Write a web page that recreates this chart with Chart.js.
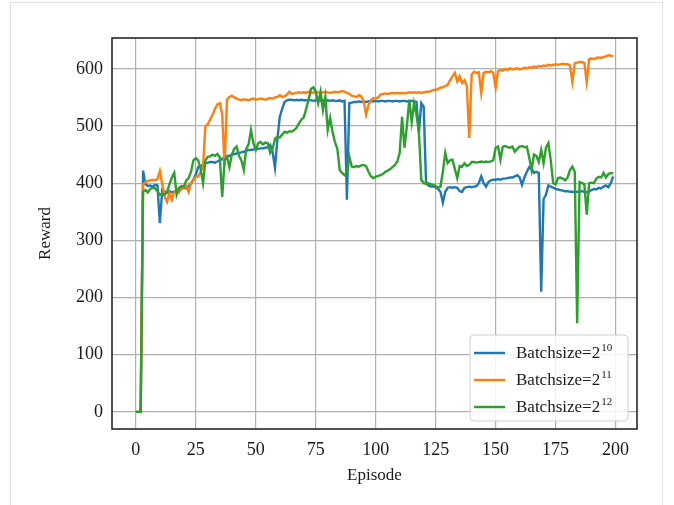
<!DOCTYPE html>
<html>
<head>
<meta charset="utf-8">
<script src="https://cdn.jsdelivr.net/npm/chart.js@4"></script>
<style>
  html, body { margin: 0; padding: 0; background: #fff; }
  #wrap { position: relative; width: 674px; height: 505px; }
  #frame { position: absolute; left: 10px; top: 2px; width: 653px; height: 510px; border: 1px solid #e2e2e2; box-sizing: border-box; pointer-events: none; }
  canvas { position: absolute; left: 0; top: 0; }
</style>
</head>
<body>
<div id="wrap">
  <div id="frame"></div>
  <canvas id="chart" width="674" height="505"></canvas>
</div>
<script>
// Reward per episode for three batch sizes

const xTicks = [0, 25, 50, 75, 100, 125, 150, 175, 200];
const yTicks = [0, 100, 200, 300, 400, 500, 600];

const seriesBase = "Batchsize=2";
const seriesExp = ["10", "11", "12"];
const seriesColors = ["#1f77b4", "#ff7f0e", "#2ca02c"];

// episode index 0..199
const episodes = Array.from({ length: 200 }, (_, i) => i);

const reward10 = [
  0, 0, 0, 422, 398, 395, 396, 394, 397, 396,
  330, 388, 385, 383, 386, 384, 385, 387, 386, 390,
  392, 391, 395, 400, 406, 415, 428, 430, 432, 435,
  436, 437, 437, 436, 438, 440, 442, 446, 447, 448,
  450, 451, 452, 453, 454, 455, 457, 458, 458, 459,
  460, 460, 461, 461, 462, 463, 467, 455, 427, 476,
  516, 530, 542, 545, 546, 546, 545, 546, 545, 546,
  545, 545, 546, 545, 544, 545, 545, 544, 545, 544,
  545, 544, 545, 544, 544, 545, 543, 544, 371, 540,
  541, 542, 542, 543, 542, 543, 542, 543, 544, 543,
  544, 543, 544, 544, 543, 544, 544, 543, 544, 544,
  543, 544, 544, 543, 544, 544, 543, 542, 488, 540,
  534, 400, 396, 394, 394, 393, 390, 385, 366, 385,
  392, 393, 392, 393, 392, 386, 385, 392, 393, 394,
  393, 394, 395, 400, 412, 400, 394, 402, 405, 406,
  406, 407, 406, 408, 408, 409, 410, 410, 412, 414,
  410, 397, 410, 420, 428, 425, 418, 420, 418, 210,
  372, 380, 396, 394, 392, 390, 389, 388, 387, 386,
  386, 385, 385, 384, 385, 385, 386, 385, 384, 386,
  388, 390, 389, 392, 391, 394, 396, 393, 400, 412
];

const reward11 = [
  0, 0, 0, 398, 402, 404, 405, 406, 405, 407,
  421, 398, 376, 367, 383, 371, 385, 387, 384, 394,
  392, 395, 385, 400, 405, 411, 412, 420, 429, 500,
  503, 512, 520, 530, 538, 540, 520, 430, 546, 551,
  553, 550, 548, 546, 545, 547, 546, 545, 547, 548,
  546, 547, 548, 547, 546, 548, 549, 548, 550, 551,
  554, 551, 552, 555, 560, 556, 557, 558, 559, 558,
  559, 558, 560, 559, 558, 560, 559, 558, 559, 560,
  559, 558, 559, 560, 559, 560, 561, 560, 558, 556,
  553, 552, 551, 554, 552, 542, 520, 537, 545, 549,
  548, 550, 555, 556, 557, 556, 557, 558, 557, 558,
  557, 558, 557, 558, 559, 558, 559, 558, 559, 558,
  559, 560, 560, 561, 563, 563, 565, 567, 568, 570,
  572, 580, 587, 593, 578, 587, 575, 580, 570, 479,
  590, 595, 593, 594, 558, 593, 595, 594, 596, 593,
  567, 596, 598, 597, 600, 598, 601, 599, 600, 601,
  599, 600, 602, 601, 603, 602, 604, 603, 605, 604,
  606, 605, 607, 606, 607, 608, 607, 608, 609, 608,
  608, 606, 577, 610, 611, 612, 612, 610, 577, 617,
  618, 617, 619, 620, 619, 621, 622, 624, 623, 622
];

const reward12 = [
  0, 0, 0, 385, 388, 384, 390, 392, 391, 386,
  380, 381, 380, 385, 398, 410, 418, 380, 392, 395,
  394, 405, 409, 420, 440, 444, 440, 425, 400, 440,
  446, 447, 450, 448, 451, 445, 376, 440, 446, 428,
  450, 460, 464, 448, 440, 423, 460, 468, 493, 470,
  458, 470, 472, 468, 471, 470, 453, 460, 478, 481,
  480, 485, 490, 488, 491, 490, 493, 497, 505, 511,
  515, 530, 546, 565, 568, 560, 540, 560, 528, 551,
  493, 514, 490, 472, 460, 423, 418, 414, 418, 446,
  429, 428, 430, 429, 431, 432, 430, 420, 412, 409,
  411, 413, 414, 416, 420, 422, 425, 428, 432, 438,
  453, 516, 462, 500, 546, 507, 540, 520, 490, 406,
  400, 399, 400, 398, 397, 395, 392, 394, 420, 453,
  435, 440, 441, 425, 409, 430, 429, 435, 430, 432,
  437, 437, 436, 437, 438, 437, 438, 437, 438, 440,
  462, 464, 441, 464, 465, 463, 462, 464, 455, 460,
  464, 465, 463, 464, 445, 423, 450, 448, 437, 458,
  435, 462, 470, 440, 400, 398, 409, 410, 408, 405,
  410, 423, 429, 420, 155, 402, 400, 398, 345, 400,
  401, 400, 408, 411, 410, 418, 410, 416, 418, 417
];

const SERIF = "'Liberation Serif', 'DejaVu Serif', serif";

function toPoints(values) {
  return values.map((v, i) => ({ x: episodes[i], y: v }));
}

// ===== 外框 + 图例 (上标需要手工画) =====
const framePlugin = {
  id: "frameAndLegend",
  afterDraw(chart) {
    const ctx = chart.ctx;
    const a = chart.chartArea;
    ctx.save();
    ctx.strokeStyle = "#1a1a1a";
    ctx.lineWidth = 1.5;
    ctx.strokeRect(a.left, a.top, a.right - a.left, a.bottom - a.top);

    // legend box
    const bx = 470, by = 335, bw = 158, bh = 86, r = 4;
    ctx.beginPath();
    ctx.moveTo(bx + r, by);
    ctx.arcTo(bx + bw, by, bx + bw, by + bh, r);
    ctx.arcTo(bx + bw, by + bh, bx, by + bh, r);
    ctx.arcTo(bx, by + bh, bx, by, r);
    ctx.arcTo(bx, by, bx + bw, by, r);
    ctx.closePath();
    ctx.fillStyle = "rgba(255,255,255,0.85)";
    ctx.fill();
    ctx.strokeStyle = "#d0d0d0";
    ctx.lineWidth = 1;
    ctx.stroke();

    const rows = [353, 380, 407];
    rows.forEach((y, i) => {
      ctx.strokeStyle = seriesColors[i];
      ctx.lineWidth = 2.4;
      ctx.beginPath();
      ctx.moveTo(474, y);
      ctx.lineTo(505, y);
      ctx.stroke();
      ctx.fillStyle = "#1a1a1a";
      ctx.textBaseline = "middle";
      ctx.textAlign = "left";
      ctx.font = "17px " + SERIF;
      ctx.fillText(seriesBase, 516, y + 1);
      const w = ctx.measureText(seriesBase).width;
      ctx.font = "11px " + SERIF;
      ctx.fillText(seriesExp[i], 516 + w + 1, y - 5);
    });
    ctx.restore();
  },
};

new Chart(document.getElementById("chart"), {
  type: "line",
  data: {
    datasets: [reward10, reward11, reward12].map((vals, i) => ({
      label: seriesBase + "^" + seriesExp[i],
      data: toPoints(vals),
      borderColor: seriesColors[i],
      borderWidth: 2.4,
      pointRadius: 0,
      tension: 0,
      fill: false,
      order: 3 - i,
    })),
  },
  options: {
    responsive: false,
    animation: false,
    layout: { padding: { left: 0, top: 38, right: 37, bottom: 0 } },
    plugins: { legend: { display: false }, tooltip: { enabled: false } },
    scales: {
      x: {
        type: "linear",
        min: -9.95,
        max: 208.95,
        afterBuildTicks: (s) => { s.ticks = xTicks.map((v) => ({ value: v })); },
        afterFit: (s) => { s.height = 76; },
        grid: { color: "#b0b0b0", lineWidth: 1.2, drawTicks: false },
        border: { display: false },
        ticks: { color: "#1a1a1a", font: { family: SERIF, size: 18 }, padding: 10, maxRotation: 0 },
        title: { display: true, text: "Episode", color: "#1a1a1a", font: { family: SERIF, size: 17 }, padding: { top: 0, bottom: 19 } },
      },
      y: {
        type: "linear",
        min: -30,
        max: 654,
        afterBuildTicks: (s) => { s.ticks = yTicks.map((v) => ({ value: v })); },
        afterFit: (s) => { s.width = 112; },
        grid: { color: "#b0b0b0", lineWidth: 1.2, drawTicks: false },
        border: { display: false },
        ticks: { color: "#1a1a1a", font: { family: SERIF, size: 18 }, padding: 9 },
        title: { display: true, text: "Reward", color: "#1a1a1a", font: { family: SERIF, size: 17 }, padding: { top: 35, bottom: 0 } },
      },
    },
  },
  plugins: [framePlugin],
});
</script>
</body>
</html>
